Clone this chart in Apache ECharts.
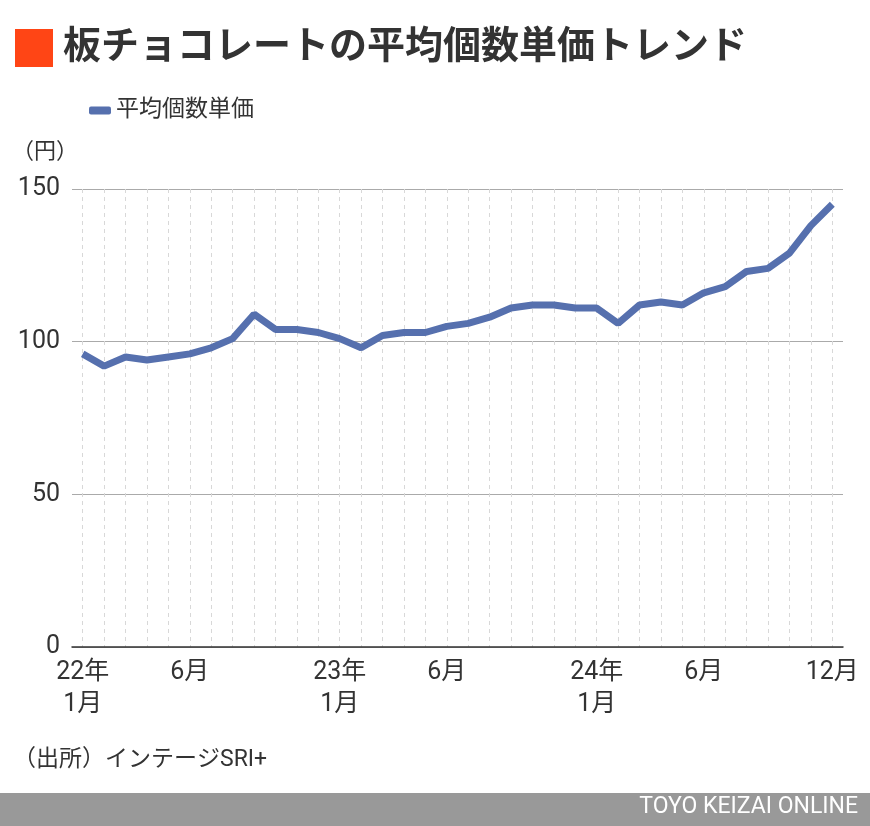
<!DOCTYPE html>
<html><head><meta charset="utf-8">
<script src="https://cdn.jsdelivr.net/npm/echarts@6/dist/echarts.min.js"></script>
<style>html,body{margin:0;padding:0;background:#fff}#c{width:870px;height:826px}</style>
</head><body><div id="c"></div>
<script>
const months = ["22年\n1月","2月","3月","4月","5月","6月","7月","8月","9月","10月","11月","12月",
"23年\n1月","2月","3月","4月","5月","6月","7月","8月","9月","10月","11月","12月",
"24年\n1月","2月","3月","4月","5月","6月","7月","8月","9月","10月","11月","12月"];
const shownLabels = [0,5,12,17,24,29,35];
const values = [96,92,95,94,95,96,98,101,109,104,104,103,101,98,102,103,103,105,106,108,111,112,112,111,111,106,112,113,112,116,118,123,124,129,138,145];
const yTicks = {min:0,max:150,interval:50};
const seriesName = "平均個数単価";
const titleText = "板チョコレートの平均個数単価トレンド";
const sourceText = "（出所）インテージSRI+";
const creditText = "TOYO KEIZAI ONLINE";
const FONT = "Roboto, 'Noto Sans CJK JP', sans-serif";

const chart = echarts.init(document.getElementById('c'));
chart.setOption({
  animation:false,
  textStyle:{fontFamily:FONT},
  title:{text:titleText,left:58,top:24,textStyle:{fontSize:38,fontWeight:'bold',color:'#333',fontFamily:FONT}},
  legend:{data:[seriesName],left:84,top:94,itemWidth:22,itemHeight:8,itemGap:5,icon:'roundRect',
    textStyle:{fontSize:23,color:'#333',fontFamily:FONT}},
  graphic:[
    {type:'rect',shape:{x:15,y:29,width:38,height:38},style:{fill:'#FF4515'}},
    {type:'text',left:12,top:141,style:{text:'（円）',fontSize:22,fill:'#333',fontFamily:FONT}},
    {type:'text',left:13,top:749,style:{text:sourceText,fontSize:23,fill:'#333',fontFamily:FONT}},
    {type:'rect',shape:{x:0,y:793,width:870,height:33},style:{fill:'#999'}},
    {type:'text',right:12,top:796,style:{text:creditText,fontSize:23,fill:'#fff',fontFamily:FONT}}
  ],
  grid:{left:72,right:27,top:189,bottom:179},
  xAxis:{type:'category',data:months,boundaryGap:true,
    axisLine:{lineStyle:{color:'#333',width:1.5}},
    axisTick:{show:false},
    axisLabel:{interval:(i)=>shownLabels.includes(i),fontSize:25,color:'#333',lineHeight:32,margin:10,fontFamily:FONT},
    splitLine:{show:true,alignWithLabel:true,interval:0,lineStyle:{color:'#d8d8d8',type:[4,4],width:1}}
  },
  yAxis:{type:'value',min:yTicks.min,max:yTicks.max,interval:yTicks.interval,
    axisLine:{show:false},axisTick:{show:false},
    axisLabel:{fontSize:25,color:'#333',margin:12,fontFamily:FONT},
    splitLine:{lineStyle:{color:'#aaa',width:1.2}}
  },
  series:[{name:seriesName,type:'line',data:values,symbol:'none',
    lineStyle:{color:'#5670AE',width:7},itemStyle:{color:'#5670AE'}}]
});
</script></body></html>
